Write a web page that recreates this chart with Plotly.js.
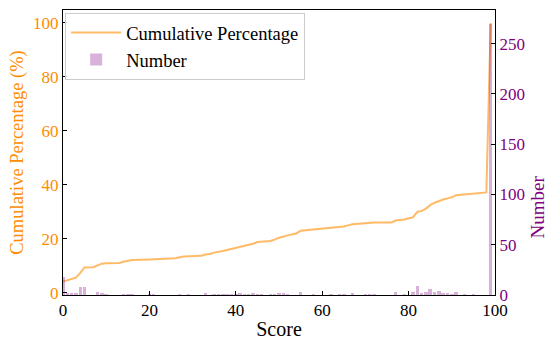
<!DOCTYPE html>
<html>
<head>
<meta charset="utf-8">
<script src="https://cdn.plot.ly/plotly-3.0.1.min.js"></script>
<style>html,body{margin:0;padding:0;background:#fff;}#chart{width:550px;height:341px;}</style>
</head>
<body>
<div id="chart"></div>
<script>
// Scores 0..99 and number of items per score (bars, right axis)
const scores = Array.from({length: 100}, (_, i) => i);
const numbers = [
  18, 2, 2, 2, 8, 8, 0, 0, 3, 2,
  1, 0, 0, 0, 1, 1, 1, 0, 0, 0,
  1, 1, 0, 0, 0, 0, 0, 1, 0, 1,
  0, 0, 0, 2, 0, 1, 1, 1, 1, 1,
  1, 2, 1, 1, 2, 1, 1, 0, 1, 1,
  2, 2, 1, 0, 0, 3, 0, 0, 1, 0,
  0, 0, 1, 0, 1, 1, 0, 2, 0, 0,
  1, 1, 1, 0, 0, 0, 0, 3, 0, 1,
  0, 3, 9, 2, 3, 6, 3, 4, 2, 2,
  1, 3, 0, 1, 0, 1, 0, 0, 0, 270
];
// Cumulative percentage line (left axis), read at breakpoints
const cumScore = [0, 1, 2, 3, 4, 5, 7, 8, 9, 10, 13, 14, 15, 16, 20, 22, 26, 27, 28, 32, 33, 34, 35, 37, 39, 41, 42, 44, 45, 48, 49, 50, 52, 54, 55, 57, 60, 63, 65, 66, 67, 70, 72, 76, 77, 79, 81, 82, 83, 84, 85, 86, 87, 88, 89, 90, 91, 94, 96, 98, 99];
const cumPct = [4.2, 4.6, 5.0, 5.6, 7.4, 9.4, 9.5, 10.3, 10.8, 11.0, 11.1, 11.5, 11.9, 12.2, 12.4, 12.6, 12.8, 13.2, 13.5, 13.7, 14.2, 14.4, 14.9, 15.5, 16.2, 17.0, 17.3, 18.2, 18.8, 19.2, 19.7, 20.4, 21.3, 22.0, 23.0, 23.3, 23.8, 24.2, 24.6, 25.0, 25.4, 25.8, 26.1, 26.1, 26.8, 27.2, 28.0, 30.0, 30.3, 31.2, 32.5, 33.4, 34.1, 34.6, 35.0, 35.4, 36.2, 36.6, 37.1, 37.2, 100];
const xTicks = [0, 20, 40, 60, 80, 100];
const leftTicks = [0, 20, 40, 60, 80, 100];
const rightTicks = [0, 50, 100, 150, 200, 250];

const FONT = '"Liberation Serif", "Times New Roman", serif';
const ORANGE = '#ff8c00';
const PURPLE = '#800080';

const traces = [
  {
    x: cumScore, y: cumPct, type: 'scatter', mode: 'lines',
    name: 'Cumulative Percentage', yaxis: 'y',
    line: {color: 'rgba(255,140,0,0.6)', width: 2}
  },
  {
    x: scores, y: numbers, type: 'bar', name: 'Number', yaxis: 'y2',
    width: 0.8,
    marker: {color: 'rgba(128,0,128,0.3)', line: {width: 0}}
  }
];

const layout = {
  width: 550, height: 341,
  margin: {l: 63, r: 55, t: 10, b: 46, pad: 0},
  paper_bgcolor: '#fff', plot_bgcolor: '#fff',
  font: {family: FONT, size: 17, color: '#000'},
  showlegend: true,
  legend: {
    x: 0.005, y: 0.99, xanchor: 'left', yanchor: 'top',
    bgcolor: 'rgba(255,255,255,0.8)', bordercolor: '#cccccc', borderwidth: 1,
    font: {family: FONT, size: 18.5, color: '#000'},
    itemwidth: 50, traceorder: 'normal'
  },
  bargap: 0,
  xaxis: {
    range: [0, 100], tickvals: xTicks, ticks: 'inside', ticklen: 4, tickcolor: '#000',
    showline: true, linecolor: '#000', linewidth: 1, mirror: true,
    showgrid: false, zeroline: false,
    tickfont: {family: FONT, size: 17, color: '#000'},
    title: {text: 'Score', font: {family: FONT, size: 20, color: '#000'}, standoff: 2}
  },
  yaxis: {
    range: [-0.8, 104.8], tickvals: leftTicks, ticks: 'inside', ticklen: 4, tickcolor: '#000',
    showline: true, linecolor: '#000', linewidth: 1,
    showgrid: false, zeroline: false,
    tickfont: {family: FONT, size: 17, color: ORANGE},
    title: {text: 'Cumulative Percentage (%)', font: {family: FONT, size: 18.5, color: ORANGE}, standoff: 4}
  },
  yaxis2: {
    overlaying: 'y', side: 'right',
    range: [0, 283.5], tickvals: rightTicks, ticks: 'inside', ticklen: 4, tickcolor: '#000',
    showline: true, linecolor: '#000', linewidth: 1,
    showgrid: false, zeroline: false,
    tickfont: {family: FONT, size: 17, color: PURPLE}
  },
  annotations: [{
    text: 'Number', xref: 'paper', yref: 'paper', x: 1, y: 0.307,
    xanchor: 'center', yanchor: 'middle', xshift: 43, textangle: -90,
    showarrow: false, font: {family: FONT, size: 19, color: PURPLE}
  }]
};

Plotly.newPlot('chart', traces, layout, {displayModeBar: false, staticPlot: true});
</script>
</body>
</html>
